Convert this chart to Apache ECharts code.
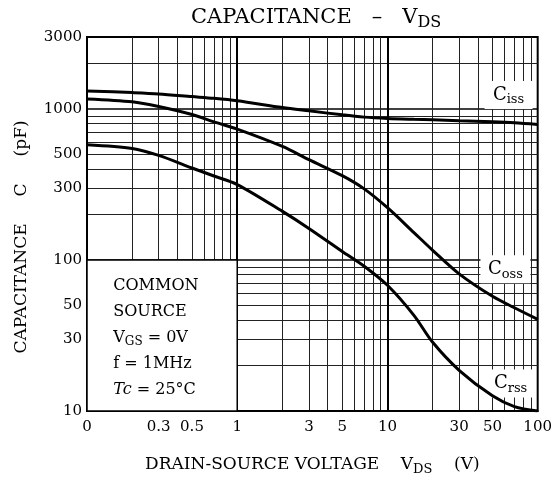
<!DOCTYPE html>
<html>
<head>
<meta charset="utf-8">
<title>CAPACITANCE - VDS</title>
<script src="https://cdn.jsdelivr.net/npm/echarts@6.0.0/dist/echarts.min.js"></script>
<style>
  html,body{margin:0;padding:0;background:#fff;}
  #main{width:555px;height:481px;}
</style>
</head>
<body>
<div id="main"></div>
<script>
// 数据
var voltage = [0.1, 0.2, 0.3, 0.5, 0.7, 1, 2, 3, 5, 7, 10, 15, 20, 30, 50, 70, 100];
var ciss = [1319, 1285, 1260, 1209, 1177, 1133, 1023, 973, 915, 884, 866, 855, 849, 836, 823, 811, 790];
var coss = [1167, 1117, 1040, 920, 823, 736, 565, 462, 362, 296, 222, 152, 116, 81, 57.5, 48.3, 40.5];
var crss = [580, 548, 493, 407, 360, 316, 210, 162, 114, 91, 68, 43, 28.5, 18.6, 12.6, 10.7, 10];

// 刻度
var xTickLabels = [0.1, 0.3, 0.5, 1, 3, 5, 10, 30, 50, 100];
var yTickLabels = [10, 30, 50, 100, 300, 500, 1000, 3000];
var xGrid = [0.2, 0.3, 0.4, 0.5, 0.6, 0.7, 0.8, 0.9, 2, 3, 4, 5, 6, 7, 8, 9, 20, 30, 40, 50, 60, 70, 80, 90];
var yGrid = [20, 30, 40, 50, 60, 70, 80, 90, 200, 300, 400, 500, 600, 700, 800, 900, 2000];
var xMajor = [1, 10];
var yMajor = [100, 1000];

var serif = 'DejaVu Serif';

function pairs(xs, ys) {
  var out = [];
  for (var i = 0; i < xs.length; i++) out.push([xs[i], ys[i]]);
  return out;
}

function curve(name, data, marks) {
  return {
    name: name,
    type: 'line',
    smooth: 0.3,
    showSymbol: false,
    animation: false,
    silent: true,
    z: 5,
    lineStyle: {color: '#000', width: 3},
    data: pairs(voltage, data),
    markPoint: marks
  };
}

// 曲线旁的标签 Ciss / Coss / Crss
var subRich = {
  c: {fontFamily: serif, fontSize: 18, color: '#000'},
  s: {fontFamily: serif, fontSize: 13, color: '#000', padding: [10, 0, 0, 0]}
};
function tag(sub, x, y, w) {
  return {
    coord: [x, y],
    symbol: 'rect',
    symbolSize: [w, 28],
    itemStyle: {color: '#fff'},
    label: {show: true, position: 'inside', formatter: '{c|C}{s|' + sub + '}', rich: subRich}
  };
}

var myChart = echarts.init(document.getElementById('main'));

var option = {
  animation: false,
  backgroundColor: '#fff',
  title: {
    text: '{a|CAPACITANCE   –   V}{s|DS}',
    left: 186,
    top: 0,
    textStyle: {
      rich: {
        a: {fontFamily: serif, fontSize: 21, fontWeight: 'normal', color: '#000'},
        s: {fontFamily: serif, fontSize: 16, fontWeight: 'normal', color: '#000', padding: [10, 0, 0, 0]}
      }
    }
  },
  grid: {left: 87, right: 16, top: 37, bottom: 69, show: true, borderColor: '#000', borderWidth: 2, backgroundColor: 'transparent'},
  xAxis: [
    {
      type: 'log', logBase: 10, min: 0.1, max: 100,
      name: '{a|DRAIN-SOURCE VOLTAGE    V}{s|DS}{a|    (V)}',
      nameLocation: 'middle', nameGap: 43,
      nameTextStyle: {
        rich: {
          a: {fontFamily: serif, fontSize: 17, color: '#000'},
          s: {fontFamily: serif, fontSize: 13, color: '#000', padding: [9, 0, 0, 0]}
        }
      },
      axisLine: {lineStyle: {color: '#000', width: 2}},
      axisTick: {show: false, customValues: xGrid},
      axisLabel: {
        customValues: xTickLabels, margin: 9,
        fontFamily: serif, fontSize: 15, color: '#000',
        formatter: function (v) { return Math.abs(v - 0.1) < 1e-6 ? '0' : String(+v.toPrecision(3)); }
      },
      splitLine: {show: true, lineStyle: {color: '#222', width: 1}}
    },
    {
      type: 'log', logBase: 10, min: 0.1, max: 100, gridIndex: 0,
      axisLine: {show: false},
      axisTick: {show: false, customValues: xMajor},
      axisLabel: {show: false},
      splitLine: {show: true, lineStyle: {color: '#000', width: 2}}
    }
  ],
  yAxis: [
    {
      type: 'log', logBase: 10, min: 10, max: 3000,
      name: 'CAPACITANCE     C     (pF)',
      nameLocation: 'middle', nameGap: 57,
      nameTextStyle: {fontFamily: serif, fontSize: 17, color: '#000', padding: [0, 26, 0, 0]},
      axisLine: {lineStyle: {color: '#000', width: 2}},
      axisTick: {show: false, customValues: yGrid},
      axisLabel: {
        customValues: yTickLabels, margin: 5,
        fontFamily: serif, fontSize: 15, color: '#000',
        formatter: function (v) { return String(Math.round(v)); }
      },
      splitLine: {show: true, lineStyle: {color: '#222', width: 1}}
    },
    {
      type: 'log', logBase: 10, min: 10, max: 3000, gridIndex: 0,
      axisLine: {show: false},
      axisTick: {show: false, customValues: yMajor},
      axisLabel: {show: false},
      splitLine: {show: true, lineStyle: {color: '#000', width: 1.6}}
    }
  ],
  series: [
    // 测试条件框
    {
      type: 'line',
      data: [],
      silent: true,
      z: 3,
      markArea: {
        silent: true,
        itemStyle: {color: '#fff', borderColor: '#000', borderWidth: 1.5},
        label: {
          show: true,
          position: 'insideTopLeft',
          offset: [22, 9],
          fontFamily: serif, fontSize: 16, color: '#000', lineHeight: 26,
          formatter: 'COMMON\nSOURCE\n{v|V}{s|GS}{v| = 0V}\nf = 1MHz\n{i|Tc}{v| = 25°C}',
          rich: {
            v: {fontFamily: serif, fontSize: 16, color: '#000', lineHeight: 26},
            s: {fontFamily: serif, fontSize: 12, color: '#000', lineHeight: 26, padding: [8, 0, 0, 0]},
            i: {fontFamily: serif, fontSize: 16, fontStyle: 'italic', color: '#000', lineHeight: 26}
          }
        },
        data: [[{coord: [0.1, 10]}, {coord: [1, 100]}]]
      }
    },
    curve('Ciss', ciss, {silent: true, animation: false, data: [tag('iss', 64, 1240, 48)]}),
    curve('Coss', coss, {silent: true, animation: false, data: [tag('oss', 61, 87, 50)]}),
    curve('Crss', crss, {silent: true, animation: false, data: [tag('rss', 66, 15.2, 50)]})
  ]
};

myChart.setOption(option);
</script>
</body>
</html>
